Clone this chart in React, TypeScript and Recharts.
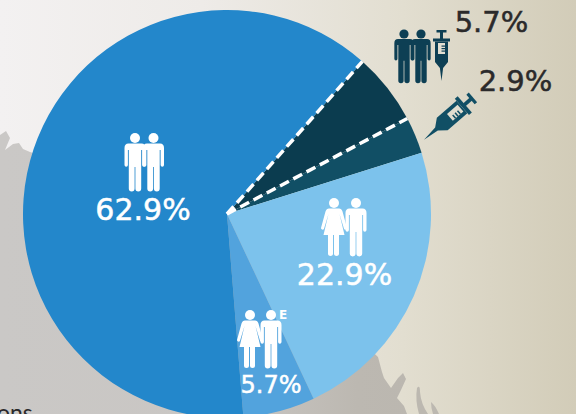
import React from "react";
import { PieChart, Pie, Cell } from "recharts";

const categories = ["Both vaccine", "Vaccine only", "Female + male", "Female + male E", "Male + male"];
const values = [5.7, 2.9, 22.9, 5.7, 62.9];
const colors = ["#0b3c4f", "#114f65", "#7cc2ec", "#52a3dd", "#2387cb"];
const sliceData = categories.map((name, i) => ({ name, value: values[i] }));

const W = 576, H = 414, CX = 227, CY = 214, R = 204;
const START = 48.4;

const labelSpots = [
  { x: 491.5, y: 32, size: 29, fill: "#2b2a2b" },
  { x: 515.5, y: 91, size: 29, fill: "#2b2a2b" },
  { x: 344.5, y: 285, size: 30, fill: "#fff" },
  { x: 271, y: 393, size: 24, fill: "#fff" },
  { x: 143, y: 220, size: 30, fill: "#fff" },
];

const FONT = "'DejaVu Sans', sans-serif";

function renderLabel(p: any) {
  const s = labelSpots[p.index];
  return (
    <text key={p.index} x={s.x} y={s.y} fill={s.fill} stroke={s.fill} strokeWidth={0.5} fontSize={s.size} fontFamily={FONT} fontWeight={400} textAnchor="middle">
      {`${values[p.index]}%`}
    </text>
  );
}

const MAN = "M-6.5,5.5 H6.5 Q10.5,5.5 10.5,10 V27 a1.7,1.7 0 0 1 -3.4,0 V12 H6.2 V50.5 a2.9,2.9 0 0 1 -5.8,0 V29 H-0.4 V50.5 a2.9,2.9 0 0 1 -5.8,0 V12 H-7.1 V27 a1.7,1.7 0 0 1 -3.4,0 V10 Q-10.5,5.5 -6.5,5.5 Z";
const WOMAN = "M-5,5.5 H5 Q7.5,5.5 8.5,8.5 L13,25 a1.6,1.6 0 0 1 -3,0.8 L5.5,11 L10.5,32 H5 V50.5 a2.5,2.5 0 0 1 -5,0 V32 H-1 V50.5 a2.5,2.5 0 0 1 -5,0 V32 H-10.5 L-5.5,11 L-10,25.8 a1.6,1.6 0 0 1 -3,-0.8 L-8.5,8.5 Q-7.5,5.5 -5,5.5 Z";

function Person({ x, y, s = 1, fill, woman }: { x: number; y: number; s?: number; fill: string; woman?: boolean }) {
  return (
    <g transform={`translate(${x} ${y}) scale(${s})`} fill={fill}>
      <circle cx={0} cy={0} r={5} />
      <path d={woman ? WOMAN : MAN} />
    </g>
  );
}

function Syringe({ transform, fill, bg }: { transform: string; fill: string; bg: string }) {
  return (
    <g transform={transform} fill={fill}>
      <rect x={-5} y={-26} width={10} height={2.5} />
      <rect x={-1.5} y={-25} width={3} height={8} />
      <rect x={-8.5} y={-17.5} width={17} height={3} />
      <path d="M-6.5,-14.5 H6.5 V6 L1.6,12 L0,25 L-1.6,12 L-6.5,6 Z" />
      <rect x={-3.5} y={-13} width={7} height={11} fill={bg} />
      <rect x={0} y={-10.5} width={3.5} height={1.2} />
      <rect x={0} y={-8} width={3.5} height={1.2} />
      <rect x={0} y={-5.5} width={3.5} height={1.2} />
    </g>
  );
}

function Boundary({ angle }: { angle: number }) {
  const a = (angle * Math.PI) / 180;
  return (
    <line x1={CX} y1={CY} x2={CX + R * Math.cos(a)} y2={CY - R * Math.sin(a)} stroke="#fff" strokeWidth={3.5} strokeDasharray="10 5" />
  );
}

export default function App() {
  return (
    <div style={{ position: "absolute", left: 0, top: 0, width: W, height: H, overflow: "hidden" }}>
      <svg width={W} height={H} style={{ position: "absolute", left: 0, top: 0 }}>
        <defs>
          <linearGradient id="paper" x1="0" x2="1" y1="0" y2="0">
            <stop offset="0" stopColor="#f3f1f1" />
            <stop offset="0.35" stopColor="#eeebe8" />
            <stop offset="0.7" stopColor="#e2ded0" />
            <stop offset="1" stopColor="#d2ccb8" />
          </linearGradient>
          <linearGradient id="land" gradientUnits="userSpaceOnUse" x1="0" x2="576" y1="0" y2="0">
            <stop offset="0" stopColor="#cac8c6" />
            <stop offset="0.4" stopColor="#c9c6c3" />
            <stop offset="0.62" stopColor="#bcb8b1" />
            <stop offset="1" stopColor="#b8b4ab" />
          </linearGradient>
        </defs>
        <rect width={W} height={H} fill="url(#paper)" />
        <path
          fill="url(#land)"
          d="M0,135 L6,131 L10,138 L5,150 L13,144 L19,143 L23,149 L30,152 L227,214 L378,357 L382,372 L384,378 L391,388 L398,378 L403,373 L406,379 L401,390 L397,398 L404,406 L407,414 L0,414 Z"
        />
        <path fill="#bcb8b0" d="M417,388 Q420,384 420,392 Q421,404 428,414 L419,414 Q415,400 417,388 Z M431,402 Q435,405 439,414 L433,414 Q431,408 431,402 Z" />
        <text x={-3} y={421} fontFamily="Lato, sans-serif" fontSize={23} fill="#2b2a2b">ons</text>
      </svg>

      <div style={{ position: "absolute", left: 0, top: 0 }}>
        <PieChart width={W} height={H} margin={{ top: 0, right: 0, bottom: 0, left: 0 }}>
          <Pie
            data={sliceData}
            dataKey="value"
            nameKey="name"
            cx={CX}
            cy={CY}
            innerRadius={0}
            outerRadius={R}
            startAngle={START}
            endAngle={START - 360}
            stroke="none"
            label={renderLabel}
            labelLine={false}
            isAnimationActive={false}
          >
            {colors.map((c) => (
              <Cell key={c} fill={c} stroke="none" />
            ))}
          </Pie>
        </PieChart>
      </div>

      <svg width={W} height={H} style={{ position: "absolute", left: 0, top: 0 }}>
        <Boundary angle={START} />
        <Boundary angle={START - (values[0] * 360) / values.reduce((a, b) => a + b, 0)} />

        <Person x={135} y={138} fill="#fff" />
        <Person x={153.5} y={138} fill="#fff" />

        <Person x={334} y={203} fill="#fff" woman />
        <Person x={356} y={203} fill="#fff" />

        <Person x={250} y={315} fill="#fff" woman />
        <Person x={271} y={315} fill="#fff" />
        <text x={279} y={319} fill="#fff" fontSize={12} fontWeight={700} fontFamily={FONT}>E</text>

        <Person x={404} y={34} s={0.92} fill="#0d3f54" />
        <Person x={421} y={34} s={0.92} fill="#0d3f54" />
        <Syringe transform="translate(441.5 56)" fill="#0d3f54" bg="#e3dfd2" />
        <Syringe transform="translate(448 119) rotate(49) scale(1.27)" fill="#114f65" bg="#e2ded0" />
      </svg>
    </div>
  );
}
